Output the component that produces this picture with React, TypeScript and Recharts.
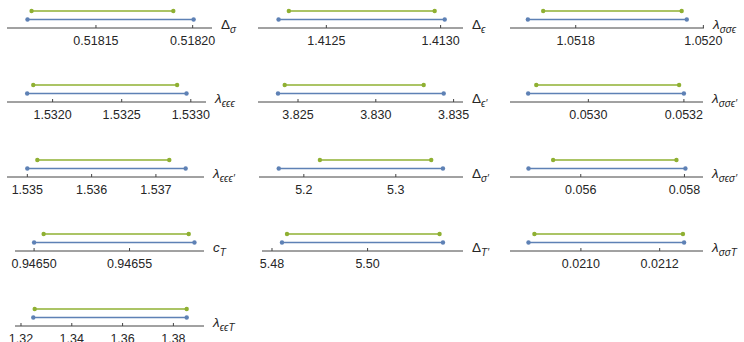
import React from 'react';
import { LineChart, Line, XAxis, YAxis } from 'recharts';

// ---- data ----
const LABEL_MAIN = ['Δ', 'Δ', 'λ', 'λ', 'Δ', 'λ', 'λ', 'Δ', 'λ', 'c', 'Δ', 'λ', 'λ'];
const LABEL_SUB = ['σ', 'ϵ', 'σσϵ', 'ϵϵϵ', 'ϵ′', 'σσϵ′', 'ϵϵϵ′', 'σ′', 'σϵσ′', 'T', 'T′', 'σσT', 'ϵϵT'];

const TICK_LABELS: string[][] = [
  ['0.51815', '0.51820'],
  ['1.4125', '1.4130'],
  ['1.0518', '1.0520'],
  ['1.5320', '1.5325', '1.5330'],
  ['3.825', '3.830', '3.835'],
  ['0.0530', '0.0532'],
  ['1.535', '1.536', '1.537'],
  ['5.2', '5.3'],
  ['0.056', '0.058'],
  ['0.94650', '0.94655'],
  ['5.48', '5.50'],
  ['0.0210', '0.0212'],
  ['1.32', '1.34', '1.36', '1.38'],
];

const DOMAINS: [number, number][] = [
  [0.518104, 0.51821],
  [1.412201, 1.413098],
  [1.051697, 1.052001],
  [1.53167, 1.53311],
  [3.822429, 3.835604],
  [0.052836, 0.05324],
  [1.534684, 1.537748],
  [5.15125, 5.37306],
  [0.054635, 0.058358],
  [0.94649, 0.946589],
  [5.47791, 5.51996],
  [0.02082, 0.02131],
  [1.31764, 1.39205],
];

const BLUE_INTERVALS: [number, number][] = [
  [0.5181146, 0.5182005],
  [1.412291, 1.413018],
  [1.051725, 1.051974],
  [1.531816, 1.532969],
  [3.823715, 3.834364],
  [0.052874, 0.0532],
  [1.535, 1.537463],
  [5.17274, 5.35125],
  [0.054992, 0.058019],
  [0.9465, 0.946584],
  [5.48209, 5.51577],
  [0.020867, 0.021262],
  [1.32484, 1.38524],
];

const GREEN_INTERVALS: [number, number][] = [
  [0.5181167, 0.51819],
  [1.412336, 1.412974],
  [1.051749, 1.051966],
  [1.53186, 1.532901],
  [3.824145, 3.833078],
  [0.052891, 0.05319],
  [1.535156, 1.537208],
  [5.21745, 5.3385],
  [0.055467, 0.057846],
  [0.946505, 0.946581],
  [5.48314, 5.51506],
  [0.020882, 0.021259],
  [1.32539, 1.38524],
];

// ---- layout ----
const AXIS_X: [number, number][] = [
  [7, 212], [258, 463], [510, 704],
  [7, 206], [258, 463], [510, 703],
  [7, 204], [259, 463], [510, 703],
  [15, 204], [262, 463], [510, 703],
  [15, 204],
];
const ROW_Y = [28, 102, 177, 251, 326];
const COL_LEFT = [0, 248, 494];
const CELL_W = 250;
const CHART_H = 66;
const TOP_M = 6;
const AXIS_H = 26;

const BLUE = '#5E81B5';
const GREEN = '#8FB032';
const AXIS_COLOR = '#444';
const TEXT_COLOR = '#262626';
const FONT = '"Liberation Sans", Arial, sans-serif';

function Tick(props: any) {
  const { x, y, payload, dec } = props;
  return (
    <g>
      <line x1={x} x2={x} y1={y - 3} y2={y} stroke={AXIS_COLOR} strokeWidth={1} />
      <text x={x} y={y + 16.5} textAnchor="middle" fontSize={12.5} fontFamily={FONT} fill={TEXT_COLOR}>
        {Number(payload.value).toFixed(dec)}
      </text>
    </g>
  );
}

function AxisName(props: any) {
  const { viewBox, main, sub } = props;
  if (!viewBox) return null;
  const x = viewBox.x + viewBox.width + 9;
  const y = viewBox.y + 1;
  return (
    <text x={x} y={y} fontFamily={FONT} fontSize={13.5} fill={TEXT_COLOR}>
      <tspan fontStyle={main === 'Δ' ? 'normal' : 'italic'}>{main}</tspan>
      <tspan dy={3.5} fontSize={10} fontStyle="italic">{sub}</tspan>
    </text>
  );
}

function Panel({ i }: { i: number }) {
  const col = i % 3;
  const row = Math.floor(i / 3);
  const cellLeft = COL_LEFT[col];
  const [ax0, ax1] = AXIS_X[i];
  const axisY = ROW_Y[row];
  const top = axisY - (CHART_H - AXIS_H);
  const ticks = TICK_LABELS[i].map(Number);
  const dec = (TICK_LABELS[i][0].split('.')[1] || '').length;
  const blueData = [
    { x: BLUE_INTERVALS[i][0], y: 1 },
    { x: BLUE_INTERVALS[i][1], y: 1 },
  ];
  const greenData = [
    { x: GREEN_INTERVALS[i][0], y: 2 },
    { x: GREEN_INTERVALS[i][1], y: 2 },
  ];
  return (
    <div style={{ position: 'absolute', left: cellLeft, top, width: CELL_W, height: CHART_H }}>
      <LineChart
        width={CELL_W}
        height={CHART_H}
        margin={{ top: TOP_M, right: cellLeft + CELL_W - ax1, bottom: 0, left: ax0 - cellLeft }}
      >
        <XAxis
          type="number"
          dataKey="x"
          domain={DOMAINS[i]}
          allowDataOverflow
          ticks={ticks}
          interval={0}
          height={AXIS_H}
          tickLine={false}
          tickSize={0}
          tickMargin={0}
          axisLine={{ stroke: AXIS_COLOR, strokeWidth: 1 }}
          tick={<Tick dec={dec} />}
          label={(p: any) => <AxisName {...p} main={LABEL_MAIN[i]} sub={LABEL_SUB[i]} />}
        />
        <YAxis type="number" hide domain={[0, 4]} />
        <Line
          data={blueData}
          dataKey="y"
          stroke={BLUE}
          strokeWidth={1.6}
          dot={{ r: 2.2, fill: BLUE, stroke: 'none' }}
          activeDot={false}
          isAnimationActive={false}
        />
        <Line
          data={greenData}
          dataKey="y"
          stroke={GREEN}
          strokeWidth={1.6}
          dot={{ r: 2.2, fill: GREEN, stroke: 'none' }}
          activeDot={false}
          isAnimationActive={false}
        />
      </LineChart>
    </div>
  );
}

export default function App() {
  return (
    <div
      style={{
        position: 'absolute',
        left: 0,
        top: 0,
        width: 744,
        height: 342,
        overflow: 'hidden',
        background: '#fff',
      }}
    >
      {LABEL_MAIN.map((_, i) => (
        <Panel key={i} i={i} />
      ))}
    </div>
  );
}
